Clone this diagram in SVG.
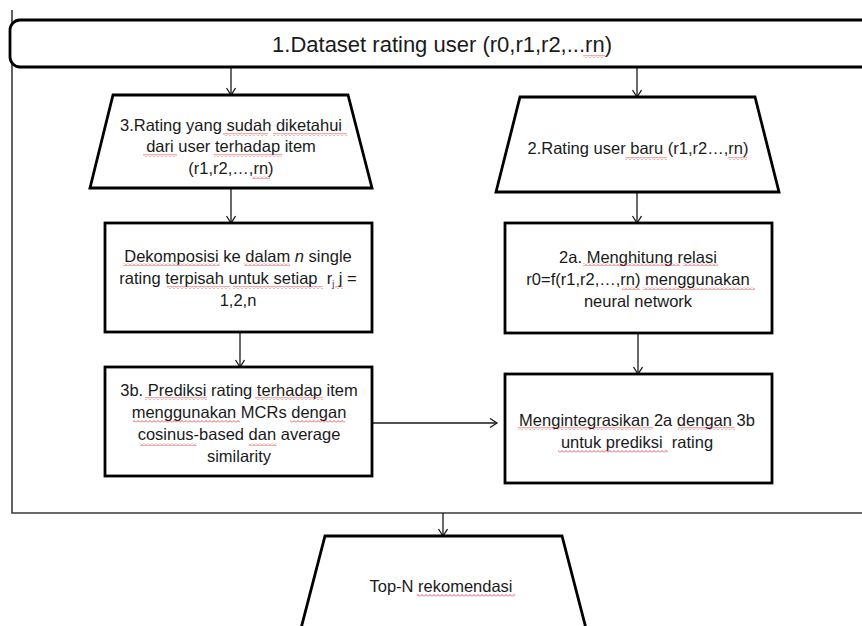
<svg xmlns="http://www.w3.org/2000/svg" width="862" height="626" viewBox="0 0 862 626">
  <style>
    .box { fill: #ffffff; stroke: #000000; stroke-width: 2.8; stroke-linejoin: miter; }
    .frame { fill: none; stroke: #3a3a3a; stroke-width: 1.6; }
    .lbl { font-family: "Liberation Sans", Arial, sans-serif; font-size: 16.5px; fill: #1a1a1a; text-anchor: middle; white-space: pre; }
    .title { font-family: "Liberation Sans", Arial, sans-serif; font-size: 22px; fill: #1a1a1a; text-anchor: middle; }
    .arrow { fill: none; stroke: #1a1a1a; stroke-width: 1.3; marker-end: url(#head); }
    .spell { fill: url(#squiggle); }
  </style>
  <defs>
    <marker id="head" markerUnits="userSpaceOnUse" markerWidth="12" markerHeight="12" refX="8" refY="5" orient="auto">
      <path d="M1,0.5 L8,5 L1,9.5" fill="none" stroke="#1a1a1a" stroke-width="1.3"/>
    </marker>
    <pattern id="squiggle" patternUnits="userSpaceOnUse" width="4" height="3">
      <path d="M0,2.5 L2,0.5 L4,2.5" fill="none" stroke="#e03030" stroke-width="0.8"/>
    </pattern>
  </defs>

  <rect width="862" height="626" fill="#ffffff"/>

  <!-- outer frame around the processing steps -->
  <g id="frame">
    <path class="frame" d="M12,10 L12,513 L862,513"/>
  </g>

  <!-- connectors -->
  <g id="connectors">
    <path class="arrow" d="M231,67 L231,95"/>
    <path class="arrow" d="M637,67 L637,97"/>
    <path class="arrow" d="M231,188 L231,223"/>
    <path class="arrow" d="M637,192 L637,223"/>
    <path class="arrow" d="M240,332 L240,367"/>
    <path class="arrow" d="M638,333 L638,374"/>
    <path class="arrow" d="M372,423 L497,423"/>
    <path class="arrow" d="M443,513 L443,536"/>
  </g>

  <!-- 1. dataset -->
  <g id="node-dataset">
    <rect class="box" x="10" y="20" width="880" height="47" rx="10" ry="10"/>
    <text class="title" x="442" y="52">1.Dataset rating user (r0,r1,r2,...rn)</text>
    <rect class="spell" x="583" y="55" width="22" height="3"/>
  </g>

  <!-- 3. known ratings -->
  <g id="node-known-ratings">
    <path class="box" d="M113,95 L348,95 L372,188 L90,188 Z"/>
    <text class="lbl" x="231" y="131">3.Rating yang sudah diketahui</text>
    <text class="lbl" x="231" y="152">dari user terhadap item</text>
    <text class="lbl" x="231" y="174">(r1,r2,…,rn)</text>
    <rect class="spell" x="223" y="133" width="45" height="3"/>
    <rect class="spell" x="273" y="133" width="74" height="3"/>
    <rect class="spell" x="143" y="154" width="34" height="3"/>
    <rect class="spell" x="214" y="154" width="68" height="3"/>
    <rect class="spell" x="252" y="176" width="18" height="3"/>
  </g>

  <!-- 2. new user ratings -->
  <g id="node-new-ratings">
    <path class="box" d="M520,97 L755,97 L779,192 L496,192 Z"/>
    <text class="lbl" x="638" y="154">2.Rating user baru (r1,r2…,rn)</text>
    <rect class="spell" x="625" y="157" width="42" height="3"/>
    <rect class="spell" x="728" y="157" width="19" height="3"/>
  </g>

  <!-- decomposition -->
  <g id="node-decompose">
    <rect class="box" x="105" y="223" width="267" height="109"/>
    <text class="lbl" x="238" y="262">Dekomposisi ke dalam <tspan font-style="italic">n</tspan> single</text>
    <text class="lbl" x="238" y="284" xml:space="preserve">rating terpisah untuk setiap  r<tspan font-size="9px" dy="3">j</tspan><tspan dy="-3"> j =</tspan></text>
    <text class="lbl" x="238" y="306">1,2,n</text>
    <rect class="spell" x="123" y="263" width="97" height="3"/>
    <rect class="spell" x="244" y="263" width="46" height="3"/>
    <rect class="spell" x="167" y="286" width="63" height="3"/>
    <rect class="spell" x="233" y="286" width="90" height="3"/>
    <rect class="spell" x="335" y="286" width="8" height="3"/>
  </g>

  <!-- 2a. neural network relation -->
  <g id="node-neural">
    <rect class="box" x="505" y="223" width="267" height="110"/>
    <text class="lbl" x="638" y="263">2a. Menghitung relasi</text>
    <text class="lbl" x="638" y="285">r0=f(r1,r2,…,rn) menggunakan</text>
    <text class="lbl" x="638" y="307">neural network</text>
    <rect class="spell" x="583" y="263" width="97" height="3"/>
    <rect class="spell" x="683" y="263" width="35" height="3"/>
    <rect class="spell" x="622" y="287" width="18" height="3"/>
    <rect class="spell" x="643" y="287" width="112" height="3"/>
  </g>

  <!-- 3b. prediction with MCRs -->
  <g id="node-predict">
    <rect class="box" x="105" y="367" width="267" height="109"/>
    <text class="lbl" x="239" y="396">3b. Prediksi rating terhadap item</text>
    <text class="lbl" x="239" y="418">menggunakan MCRs dengan</text>
    <text class="lbl" x="239" y="440">cosinus-based dan average</text>
    <text class="lbl" x="239" y="462">similarity</text>
    <rect class="spell" x="145" y="397" width="62" height="3"/>
    <rect class="spell" x="255" y="397" width="68" height="3"/>
    <rect class="spell" x="133" y="420" width="107" height="3"/>
    <rect class="spell" x="290" y="420" width="55" height="3"/>
    <rect class="spell" x="140" y="443" width="57" height="3"/>
    <rect class="spell" x="249" y="443" width="28" height="3"/>
  </g>

  <!-- integration of 2a and 3b -->
  <g id="node-integrate">
    <rect class="box" x="505" y="374" width="267" height="109"/>
    <text class="lbl" x="637" y="426">Mengintegrasikan 2a dengan 3b</text>
    <text class="lbl" x="637" y="448" xml:space="preserve">untuk prediksi  rating</text>
    <rect class="spell" x="518" y="427" width="135" height="3"/>
    <rect class="spell" x="678" y="427" width="57" height="3"/>
    <rect class="spell" x="558" y="450" width="110" height="3"/>
  </g>

  <!-- top-N output -->
  <g id="node-topn">
    <path class="box" d="M325,536 L562,536 L589,640 L298,640 Z"/>
    <text class="lbl" x="441" y="592">Top-N rekomendasi</text>
    <rect class="spell" x="417" y="594" width="98" height="3"/>
  </g>
</svg>
